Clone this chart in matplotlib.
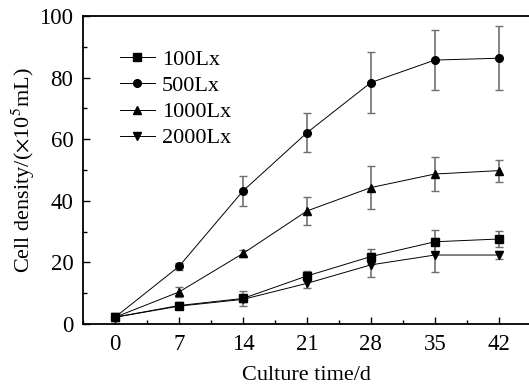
import matplotlib
matplotlib.use("Agg")
import matplotlib.pyplot as plt
from matplotlib.ticker import MultipleLocator

plt.rcParams['font.family'] = ['Liberation Serif', 'DejaVu Serif']
plt.rcParams['mathtext.fontset'] = 'stix'

days = [0, 7, 14, 21, 28, 35, 42]
labels = ["100Lx", "500Lx", "1000Lx", "2000Lx"]
markers = ["s", "o", "^", "v"]

lx100 = [2.2, 6.0, 8.3, 15.6, 21.9, 26.7, 27.6]
lx100_err = [0.8, 0.8, 2.5, 1.5, 2.5, 3.8, 2.7]
lx500 = [2.2, 18.7, 43.2, 62.1, 78.4, 85.7, 86.3]
lx500_err = [0.8, 1.2, 5.0, 6.3, 10.0, 9.8, 10.4]
lx1000 = [2.2, 10.4, 22.9, 36.7, 44.3, 48.7, 49.8]
lx1000_err = [0.8, 1.5, 1.0, 4.6, 7.0, 5.5, 3.6]
lx2000 = [2.2, 5.8, 8.0, 13.2, 19.2, 22.4, 22.4]
lx2000_err = [0.8, 0.8, 1.0, 1.5, 4.0, 5.4, 1.2]

series = [lx100, lx500, lx1000, lx2000]
errs = [lx100_err, lx500_err, lx1000_err, lx2000_err]

fig = plt.figure(figsize=(5.29, 3.86), dpi=100)
ax = fig.add_axes([0.157, 0.1606, 0.843, 0.7979])

handles = []
for y, e, m, lab in zip(series, errs, markers, labels):
    h = ax.errorbar(days, y, yerr=e, marker=m, markersize=5.5, color='black',
                    linewidth=0.7, ecolor='#707070', elinewidth=1.2, capsize=3,
                    capthick=1.0)
    handles.append(h[0])

ax.set_xlim(-3.5, 45.3)
ax.set_ylim(0, 100)
ax.set_xticks(days)
ax.xaxis.set_minor_locator(MultipleLocator(3.5))
ax.yaxis.set_major_locator(MultipleLocator(20))
ax.yaxis.set_minor_locator(MultipleLocator(10))
ax.tick_params(which='both', direction='in', labelsize=16.5, width=1.0)
ax.tick_params(which='major', length=5, pad=7)
ax.tick_params(which='minor', length=3)
ax.spines['right'].set_visible(False)
for s in ['left', 'bottom', 'top']:
    ax.spines[s].set_linewidth(1.3)

ax.set_xlabel("Culture time/d", fontsize=16, labelpad=8)
ax.set_ylabel(r"Cell density/($\times$10$^5$mL)", fontsize=16, labelpad=2)

leg = ax.legend(handles, labels, loc='upper left', bbox_to_anchor=(0.062, 0.92),
                frameon=False, fontsize=16, handlelength=1.6, handletextpad=0.3,
                labelspacing=0.25, borderaxespad=0)

fig.savefig("out.png", dpi=100)
